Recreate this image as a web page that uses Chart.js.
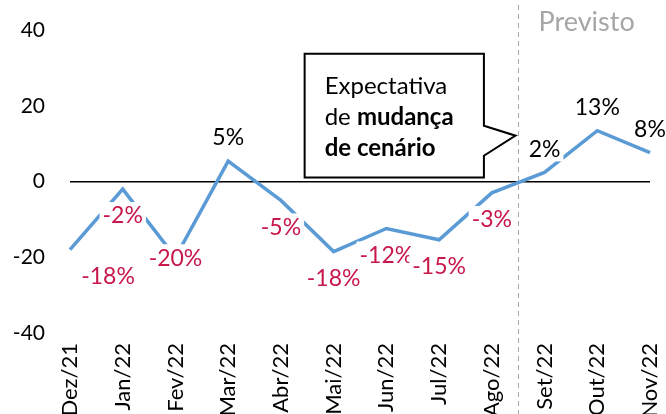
<!DOCTYPE html>
<html>
<head>
<meta charset="utf-8">
<script src="https://cdn.jsdelivr.net/npm/chart.js@4.4.1/dist/chart.umd.min.js"></script>
<style>
	html, body { margin: 0; padding: 0; background: #fff; }
</style>
</head>
<body>
<canvas id="chart" width="666" height="414"></canvas>
<script>
const months = ["Dez/21", "Jan/22", "Fev/22", "Mar/22", "Abr/22", "Mai/22", "Jun/22", "Jul/22", "Ago/22", "Set/22", "Out/22", "Nov/22"];
const variation = [-18, -2, -20, 5.4, -5, -18.5, -12.4, -15.4, -3, 2.4, 13.4, 7.6];
// where each value label sits relative to its point
const labelSide = ["belowRight", "below", "center", "above", "below", "below", "below", "below", "below", "above", "above", "above"];
const forecastStart = "Set/22";
const calloutLines = [
	[{ text: "Expectativa", bold: false }],
	[{ text: "de ", bold: false }, { text: "mudança", bold: true }],
	[{ text: "de cenário", bold: true }],
];

const FONT = "Lato, 'Open Sans', sans-serif";
const RED = "#C8174A";
const BLUE = "#5B9BD5";

const valueLabels = {
	id: "valueLabels",
	afterDatasetsDraw(chart) {
		const { ctx } = chart;
		const meta = chart.getDatasetMeta(0);
		ctx.save();
		ctx.font = `23px ${FONT}`;
		ctx.textAlign = "center";
		ctx.textBaseline = "middle";
		meta.data.forEach((pt, i) => {
			const v = variation[i];
			const text = `${Math.round(v)}%`;
			let x = pt.x;
			let y = pt.y;
			const side = labelSide[i];
			if (side === "above") y -= 24;
			if (side === "below") y += 26;
			if (side === "belowRight") {
				y += 26;
				x += 38;
			}
			const w = ctx.measureText(text).width;
			ctx.fillStyle = "#fff";
			ctx.fillRect(x - w / 2 - 3, y - 13, w + 6, 26);
			ctx.fillStyle = v < 0 ? RED : "#000";
			ctx.fillText(text, x, y + 1);
		});
		ctx.restore();
	},
};

const annotations = {
	id: "annotations",
	afterDraw(chart) {
		const { ctx } = chart;
		const xs = chart.scales.x;
		const ys = chart.scales.y;
		const idx = months.indexOf(forecastStart);
		const splitX = Math.round((xs.getPixelForValue(idx - 1) + xs.getPixelForValue(idx)) / 2) + 0.5;

		ctx.save();
		// forecast divider
		ctx.strokeStyle = "#A6A6A6";
		ctx.lineWidth = 1;
		ctx.setLineDash([5, 4]);
		ctx.beginPath();
		ctx.moveTo(splitX, 5);
		ctx.lineTo(splitX, chart.height);
		ctx.stroke();
		ctx.setLineDash([]);

		ctx.fillStyle = "#A6A6A6";
		ctx.font = `27px ${FONT}`;
		ctx.textAlign = "left";
		ctx.textBaseline = "middle";
		ctx.fillText("Previsto", splitX + 20, 22);

		// callout box
		const left = xs.getPixelForValue(4.45);
		const right = xs.getPixelForValue(7.85);
		const top = ys.getPixelForValue(33.7);
		const bottom = ys.getPixelForValue(1.05);
		const tipX = splitX - 3;
		ctx.beginPath();
		ctx.moveTo(left, top);
		ctx.lineTo(right, top);
		ctx.lineTo(right, ys.getPixelForValue(14.7));
		ctx.lineTo(tipX, ys.getPixelForValue(12.1));
		ctx.lineTo(right, ys.getPixelForValue(6.8));
		ctx.lineTo(right, bottom);
		ctx.lineTo(left, bottom);
		ctx.closePath();
		ctx.fillStyle = "#fff";
		ctx.fill();
		ctx.strokeStyle = "#000";
		ctx.lineWidth = 2;
		ctx.stroke();

		ctx.fillStyle = "#000";
		ctx.textBaseline = "middle";
		calloutLines.forEach((parts, i) => {
			let x = left + 20;
			const y = top + 32 + i * 31;
			parts.forEach((p) => {
				ctx.font = `${p.bold ? "bold " : ""}24px ${FONT}`;
				ctx.fillText(p.text, x, y);
				x += ctx.measureText(p.text).width;
			});
		});
		ctx.restore();
	},
};

new Chart(document.getElementById("chart"), {
	type: "line",
	data: {
		labels: months,
		datasets: [
			{
				data: variation,
				borderColor: BLUE,
				borderWidth: 3.5,
				pointRadius: 0,
				tension: 0,
				clip: false,
			},
		],
	},
	options: {
		responsive: false,
		animation: false,
		devicePixelRatio: 1,
		layout: { padding: { top: 30, right: 16, left: 0, bottom: 0 } },
		plugins: {
			legend: { display: false },
			tooltip: { enabled: false },
		},
		scales: {
			x: {
				offset: false,
				grid: { display: false, drawTicks: false },
				border: { display: false },
				ticks: {
					minRotation: 90,
					maxRotation: 90,
					autoSkip: false,
					padding: 10,
					color: "#000",
					font: { family: FONT, size: 22 },
				},
				afterFit: (scale) => {
					scale.height = 81;
					scale.paddingLeft = 0;
					scale.paddingRight = 0;
				},
			},
			y: {
				min: -40,
				max: 40,
				grid: {
					drawTicks: false,
					color: (c) => (c.tick && c.tick.value === 0 ? "#000" : "transparent"),
					lineWidth: 1.5,
				},
				border: { display: false },
				ticks: {
					stepSize: 20,
					padding: 25,
					color: "#000",
					font: { family: FONT, size: 21 },
				},
				afterFit: (scale) => {
					scale.width = 70;
					scale.paddingTop = 0;
					scale.paddingBottom = 0;
				},
			},
		},
	},
	plugins: [valueLabels, annotations],
});
</script>
</body>
</html>
